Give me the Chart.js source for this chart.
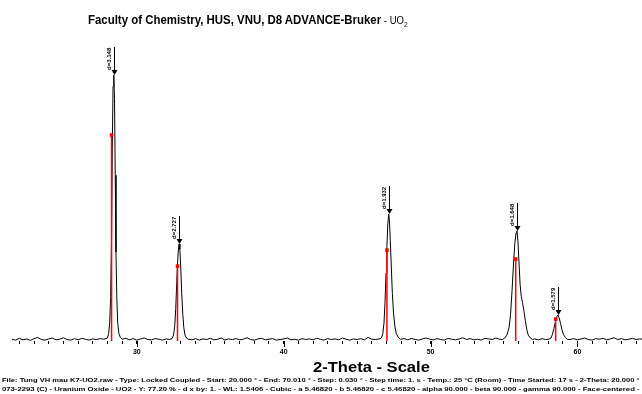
<!DOCTYPE html>
<html>
<head>
<meta charset="utf-8">
<script src="https://cdn.jsdelivr.net/npm/chart.js@4/dist/chart.umd.min.js"></script>
<style>
  html, body { margin: 0; padding: 0; background: #fff; }
  #wrap { position: relative; width: 642px; height: 394px; overflow: hidden; }
  #chart { position: absolute; left: 0; top: 0; }
  .txt { position: absolute; white-space: nowrap; font-family: "Liberation Sans", Arial, sans-serif; color: #000; transform-origin: 0 0; display: inline-block; }
  #title { left: 88px; top: 13px; font-size: 12px; font-weight: bold; }
  #title span { font-weight: normal; font-size: 10px; }
  #xtitle { left: 313px; top: 358px; font-size: 15px; font-weight: bold; }
  .foot { left: 2px; font-size: 6px; font-weight: bold; }
  #foot1 { top: 377px; }
  #foot2 { top: 386px; }
</style>
</head>
<body>
<div id="wrap">
  <canvas id="chart" width="642" height="394"></canvas>
  <div class="txt" id="title">Faculty of Chemistry, HUS, VNU, D8 ADVANCE-Bruker<span> - UO<sub style="font-size:7px">2</sub></span></div>
  <div class="txt" id="xtitle">2-Theta - Scale</div>
  <div class="txt foot" id="foot1">File: Tung VH mau K7-UO2.raw - Type: Locked Coupled - Start: 20.000 ° - End: 70.010 ° - Step: 0.030 ° - Step time: 1. s - Temp.: 25 °C (Room) - Time Started: 17 s - 2-Theta: 20.000 °</div>
  <div class="txt foot" id="foot2">073-2293 (C) - Uranium Oxide - UO2 - Y: 77.20 % - d x by: 1. - WL: 1.5406 - Cubic - a 5.46820 - b 5.46820 - c 5.46820 - alpha 90.000 - beta 90.000 - gamma 90.000 - Face-centered -</div>
</div>
<script>
const twoTheta = [
  21.5, 21.75, 22.0, 22.25, 22.5, 22.75, 23.0, 23.25, 23.5, 23.75, 24.0, 24.25, 24.5, 24.75, 25.0, 25.25, 25.5, 25.75, 26.0, 26.25, 26.5, 26.75, 27.0, 27.25, 27.5, 27.75,
  28.0, 28.08, 28.15, 28.22, 28.28, 28.33, 28.38, 28.43, 28.48, 28.53, 28.58, 28.64, 28.7, 28.78, 28.88,
  29.0, 29.25, 29.5, 29.75, 30.0, 30.25, 30.5, 30.75, 31.0, 31.25, 31.5, 31.75, 32.0, 32.2,
  32.4, 32.5, 32.58, 32.65, 32.72, 32.78, 32.84, 32.88, 32.93, 32.99, 33.06, 33.13, 33.2, 33.28, 33.38,
  33.5, 33.75, 34.0, 34.25, 34.5, 34.75, 35.0, 35.25, 35.5, 35.75, 36.0, 36.25, 36.5, 36.75, 37.0, 37.25, 37.5, 37.75, 38.0, 38.25,
  38.5, 38.75, 39.0, 39.25, 39.5, 39.75, 40.0, 40.25, 40.5, 40.75, 41.0, 41.25, 41.5, 41.75, 42.0, 42.25, 42.5, 42.75, 43.0, 43.25,
  43.5, 43.75, 44.0, 44.25, 44.5, 44.75, 45.0, 45.25, 45.5, 45.75, 46.0, 46.25, 46.5,
  46.65, 46.75, 46.83, 46.9, 46.97, 47.03, 47.09, 47.15, 47.2, 47.26, 47.33, 47.4, 47.48, 47.57, 47.67, 47.8,
  47.95, 48.2, 48.45, 48.7, 48.95, 49.2, 49.45, 49.7, 49.95, 50.2, 50.45, 50.7, 50.95, 51.2, 51.45, 51.7, 51.95, 52.2, 52.45, 52.7,
  52.95, 53.2, 53.45, 53.7, 53.95, 54.2, 54.45, 54.7, 54.9,
  55.05, 55.2, 55.35, 55.45, 55.55, 55.65, 55.74, 55.82, 55.88, 55.95, 56.02, 56.1, 56.18, 56.26, 56.35, 56.45, 56.55, 56.65, 56.8, 56.95,
  57.1, 57.35, 57.6, 57.85, 58.05,
  58.2, 58.3, 58.4, 58.48, 58.55, 58.62, 58.68, 58.76, 58.85, 58.95, 59.05, 59.18, 59.3,
  59.5, 59.75, 60.0, 60.25, 60.5, 60.75, 61.0, 61.25, 61.5, 61.75, 62.0, 62.25, 62.5, 62.75, 63.0, 63.25, 63.5, 63.75, 64.0, 64.25, 64.5
];
const counts = [
  6, 3, 9, 4, 7, 2, 8, 12, 5, 3, 7, 10, 4, 6, 11, 5, 3, 8, 4, 9, 6, 3, 7, 5, 8, 6,
  10, 25, 60, 150, 350, 650, 860, 899, 820, 560, 300, 140, 60, 25, 12,
  6, 9, 4, 8, 3, 7, 10, 5, 4, 8, 6, 3, 7, 5,
  8, 20, 50, 110, 200, 270, 315, 328, 310, 250, 160, 90, 45, 20, 10,
  6, 4, 8, 3, 7, 5, 9, 4, 6, 10, 3, 7, 5, 8, 4, 6, 11, 5, 3, 7,
  9, 4, 6, 8, 3, 5, 7, 10, 4, 6, 3, 8, 5, 7, 4, 9, 6, 3, 8, 5,
  7, 4, 10, 6, 3, 7, 5, 8, 4, 12, 6, 5, 7,
  10, 25, 60, 130, 230, 320, 395, 429, 410, 340, 250, 160, 95, 50, 25, 12,
  6, 8, 4, 9, 5, 3, 7, 10, 6, 4, 8, 5, 3, 9, 6, 4, 7, 11, 5, 8,
  4, 6, 3, 9, 7, 5, 10, 6, 5,
  10, 20, 45, 90, 170, 260, 330, 365, 372, 340, 270, 190, 150, 130, 105, 70, 40, 20, 10, 5,
  7, 4, 8, 5, 6,
  10, 22, 42, 60, 72, 84, 88, 78, 60, 38, 22, 12, 6,
  5, 8, 4, 7, 10, 5, 3, 8, 6, 9, 4, 7, 11, 5, 8, 4, 6, 9, 5, 7, 6
];

// reference pattern 073-2293 (UO2) sticks
const refTheta = [28.28, 32.77, 47.03, 55.80, 58.52];
const refCounts = [696, 253, 307, 277, 74];

// labelled peaks
const peakTheta = [28.43, 32.88, 47.16, 55.88, 58.68];
const peakCounts = [899, 328, 429, 372, 88];
const peakLabels = ['d=3.148', 'd=2.727', 'd=1.932', 'd=1.648', 'd=1.579'];

const majorTicks = [30, 40, 50, 60];

const scanData = twoTheta.map((t, i) => ({ x: t, y: counts[i] }));
const stickData = [];
refTheta.forEach((t, i) => {
  stickData.push({ x: t, y: 0 }, { x: t, y: refCounts[i] }, { x: t, y: null });
});

const peakMarks = {
  id: 'peakMarks',
  afterDatasetsDraw(chart) {
    const { ctx, scales: { x, y } } = chart;
    ctx.save();
    // longer ticks at labelled values
    ctx.strokeStyle = '#000';
    ctx.lineWidth = 1;
    majorTicks.forEach(v => {
      const px = Math.round(x.getPixelForValue(v)) + 0.5;
      ctx.beginPath();
      ctx.moveTo(px, chart.chartArea.bottom);
      ctx.lineTo(px, chart.chartArea.bottom + 6);
      ctx.stroke();
    });
    // d-spacing arrows
    ctx.fillStyle = '#000';
    ctx.font = 'bold 6px "Liberation Sans", Arial, sans-serif';
    peakTheta.forEach((t, i) => {
      const px = Math.round(x.getPixelForValue(t)) + 0.5;
      const py = y.getPixelForValue(peakCounts[i]);
      ctx.beginPath();
      ctx.moveTo(px, py - 28);
      ctx.lineTo(px, py - 3);
      ctx.stroke();
      ctx.beginPath();
      ctx.moveTo(px - 3, py - 5);
      ctx.lineTo(px + 3, py - 5);
      ctx.lineTo(px, py);
      ctx.closePath();
      ctx.fill();
      ctx.save();
      ctx.translate(px - 2, py - 5);
      ctx.rotate(-Math.PI / 2);
      ctx.textAlign = 'left';
      ctx.textBaseline = 'bottom';
      ctx.fillText(peakLabels[i], 0, 0);
      ctx.restore();
    });
    ctx.restore();
  }
};

new Chart(document.getElementById('chart'), {
  type: 'line',
  data: {
    datasets: [
      {
        label: 'UO2 reference',
        data: stickData,
        borderColor: '#ff0000',
        backgroundColor: '#ff0000',
        borderWidth: 1.5,
        spanGaps: false,
        pointStyle: 'rect',
        pointRadius: ctx => (ctx.raw && ctx.raw.y > 0 ? 2.5 : 0),
        pointBorderWidth: 0
      },
      {
        label: 'Tung VH mau K7-UO2',
        data: scanData,
        borderColor: '#000',
        borderWidth: 1,
        tension: 0,
        pointRadius: 0
      }
    ]
  },
  options: {
    responsive: false,
    animation: false,
    events: [],
    layout: { padding: { top: 45, left: 12, right: 0, bottom: 36 } },
    plugins: { legend: { display: false }, title: { display: false }, tooltip: { enabled: false } },
    scales: {
      x: {
        type: 'linear',
        min: 21.5,
        max: 64.4,
        border: { display: false },
        grid: { drawOnChartArea: false, tickLength: 3, color: '#000', tickColor: '#000' },
        ticks: {
          stepSize: 1,
          includeBounds: false,
          autoSkip: false,
          maxRotation: 0,
          padding: 4,
          color: '#000',
          font: { family: '"Liberation Sans", Arial, sans-serif', size: 7, weight: 'bold' },
          callback: v => (v % 10 === 0 ? v : '')
        },
        afterFit(scale) { scale.height = 17; }
      },
      y: { display: false, min: 0, max: 1000 }
    }
  },
  plugins: [peakMarks]
});

function fitText(id, width) {
  const el = document.getElementById(id);
  el.style.transform = 'scaleX(' + (width / el.offsetWidth) + ')';
}
fitText('title', 320);
fitText('xtitle', 117);
fitText('foot1', 638);
fitText('foot2', 638);
</script>
</body>
</html>
